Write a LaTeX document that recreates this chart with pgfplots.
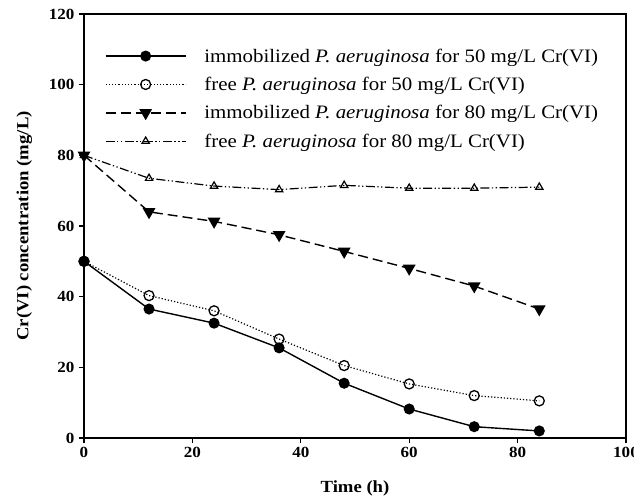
\documentclass[border=0pt]{standalone}
\usepackage{pgfplots}
\pgfplotsset{compat=1.18}
\usepackage{fontspec}
\setmainfont{Liberation Serif}[FakeStretch=1.1]
\begin{document}
\begin{tikzpicture}
\useasboundingbox (-84pt,-62pt) rectangle (550pt,438pt);
\begin{axis}[
at={(0,0)}, anchor=south west,
scale only axis,
width=542pt, height=424pt,
xmin=0, xmax=100, ymin=0, ymax=120,
xtick={0,20,40,60,80,100},
ytick={0,20,40,60,80,100,120},
tick align=outside,
tick pos=left,
major tick length=5pt,
axis line style={line width=1.4pt},
tick style={line width=1.1pt, black},
/pgf/number format/assume math mode=true,
ticklabel style={font=\fontsize{15.5}{17}\selectfont\bfseries},
yticklabel style={xshift=-1pt},
xticklabel style={yshift=-1pt},
xlabel={\bfseries Time (h)},
ylabel={\bfseries Cr(VI) concentration (mg/L)},
label style={font=\fontsize{17}{19}\selectfont},
xlabel style={at={(axis description cs:0.5,-0.118)}, anchor=center},
ylabel style={at={(axis description cs:-0.11,0.5)}, anchor=center},
legend style={at={(axis description cs:0.0387,0.923)}, anchor=north west, draw=none, fill=none,
  inner sep=0pt, outer sep=0pt,
  font=\fontsize{19}{22}\selectfont, row sep=9.5pt,
  /tikz/every odd column/.append style={column sep=16pt}},
legend cell align=left,
legend image code/.code={\draw[mark repeat=2,mark phase=2] plot coordinates {(0pt,0pt) (40pt,0pt) (80pt,0pt)};},
]
\addplot [black, line width=1.4pt, mark=*, mark size=4.8pt, mark options={solid}]
coordinates {(0,50) (12,36.5) (24,32.5) (36,25.5) (48,15.5) (60,8.2) (72,3.2) (84,2)};
\addlegendentry{immobilized \textit{P. aeruginosa} for 50 mg/L Cr(VI)}
\addplot [black, line width=1.2pt, dotted, mark=o, mark size=5pt, mark options={solid, fill=white, line width=1.3pt}]
coordinates {(0,50) (12,40.3) (24,36) (36,28) (48,20.5) (60,15.3) (72,12) (84,10.5)};
\addlegendentry{free \textit{P. aeruginosa} for 50 mg/L Cr(VI)}
\addplot [black, line width=1.4pt, dash pattern=on 10pt off 5pt, mark=triangle*, mark size=6pt, mark options={solid, rotate=180}]
coordinates {(0,80) (12,64) (24,61.3) (36,57.5) (48,52.8) (60,48) (72,43) (84,36.5)};
\addlegendentry{immobilized \textit{P. aeruginosa} for 80 mg/L Cr(VI)}
\addplot [black, line width=1.2pt, dash pattern=on 9pt off 2.5pt on 1.3pt off 2.5pt on 1.3pt off 2.5pt, mark=triangle, mark size=4.2pt, mark options={solid, fill=white, line width=1.2pt}]
coordinates {(0,80) (12,73.5) (24,71.3) (36,70.3) (48,71.5) (60,70.7) (72,70.7) (84,71)};
\addlegendentry{free \textit{P. aeruginosa} for 80 mg/L Cr(VI)}
\end{axis}
\end{tikzpicture}
\end{document}
